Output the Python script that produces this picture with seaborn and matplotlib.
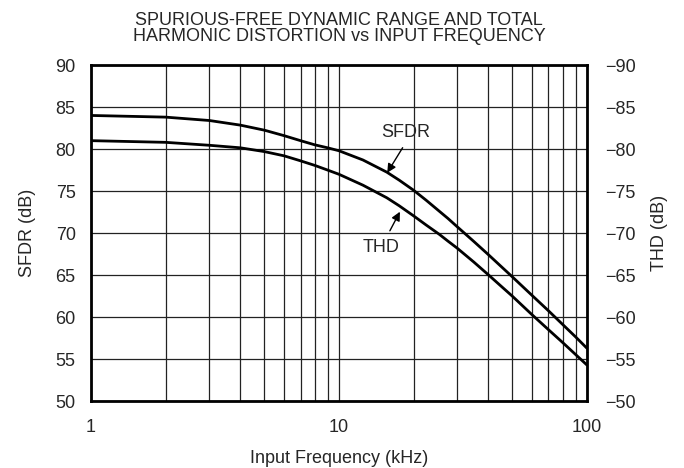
import matplotlib
matplotlib.use("Agg")
import matplotlib.pyplot as plt
import matplotlib.ticker as mticker
import numpy as np
import pandas as pd
import seaborn as sns

# values
freq = [1, 2, 3, 4, 5, 6, 7, 8, 9, 10, 12.5, 15.6, 17.5, 20, 22.5, 25.4, 27.5,
        30, 35, 40, 45, 50, 60, 70, 80, 90, 100]
sfdr_db = [84.0, 83.8, 83.4, 82.85, 82.25, 81.6, 81.0, 80.5, 80.15, 79.8, 78.7, 77.25,
           76.3, 75.1, 73.9, 72.6, 71.75, 70.75, 69.0, 67.45, 66.05, 64.8, 62.6, 60.75,
           59.1, 57.65, 56.3]
thd_db = [81.0, 80.8, 80.45, 80.15, 79.7, 79.2, 78.6, 78.05, 77.5, 77.0, 75.7, 74.2,
          73.25, 72.05, 70.95, 69.85, 69.05, 68.2, 66.55, 65.05, 63.7, 62.5, 60.3, 58.5,
          56.95, 55.55, 54.3]

df = pd.DataFrame({"freq": freq, "SFDR": sfdr_db, "THD": thd_db})

sns.set_style("white")
plt.rcParams["font.family"] = ["Liberation Sans", "DejaVu Sans"]
fs = 13

fig, ax = plt.subplots(figsize=(6.84, 4.68), dpi=100)
fig.subplots_adjust(left=0.133, right=0.858, top=0.861, bottom=0.143)

sns.lineplot(x="freq", y="SFDR", data=df, ax=ax, color="black", linewidth=2,
             solid_joinstyle="round")
sns.lineplot(x="freq", y="THD", data=df, ax=ax, color="black", linewidth=2,
             solid_joinstyle="round")

ax.set_xscale("log")
ax.set_xlim(1, 100)
ax.set_ylim(50, 90)
ax.xaxis.set_major_locator(mticker.FixedLocator([1, 10, 100]))
ax.xaxis.set_major_formatter(mticker.FixedFormatter(["1", "10", "100"]))
ax.xaxis.set_minor_locator(mticker.LogLocator(base=10, subs=np.arange(2, 10)))
ax.xaxis.set_minor_formatter(mticker.NullFormatter())
ax.set_yticks(range(50, 91, 5))
ax.grid(True, which="both", color="#222222", linewidth=0.9)
ax.tick_params(axis="y", which="both", length=0, labelsize=fs, pad=11)
ax.tick_params(axis="x", which="both", length=0, labelsize=fs, pad=13)

ax.set_xlabel("Input Frequency (kHz)", fontsize=fs, labelpad=10)
ax.set_ylabel("SFDR (dB)", fontsize=fs, labelpad=14)
ax.set_title("SPURIOUS-FREE DYNAMIC RANGE AND TOTAL\nHARMONIC DISTORTION vs INPUT FREQUENCY",
             fontsize=fs, pad=17, linespacing=0.97)

for s in ax.spines.values():
    s.set_linewidth(2)
    s.set_color("black")

ax2 = ax.twinx()
ax2.set_ylim(-50, -90)
ax2.set_yticks(range(-90, -49, 5))
ax2.set_yticklabels(["\u2212%d" % abs(v) for v in range(-90, -49, 5)])
ax2.tick_params(length=0, labelsize=fs, pad=13)
ax2.set_ylabel("THD (dB)", fontsize=fs, labelpad=11)
for s in ax2.spines.values():
    s.set_visible(False)

arrow = dict(arrowstyle="-|>", color="black", linewidth=1, mutation_scale=13,
             shrinkA=0, shrinkB=0)
ax.text(18.6, 81.94, "SFDR", fontsize=fs, ha="center", va="center")
ax.annotate("", xy=(15.66, 77.18), xytext=(18.07, 80.16), arrowprops=arrow)
ax.text(14.74, 68.33, "THD", fontsize=fs, ha="center", va="center")
ax.annotate("", xy=(17.62, 72.54), xytext=(16.05, 70.27), arrowprops=arrow)

fig.savefig("out.png", dpi=100)
